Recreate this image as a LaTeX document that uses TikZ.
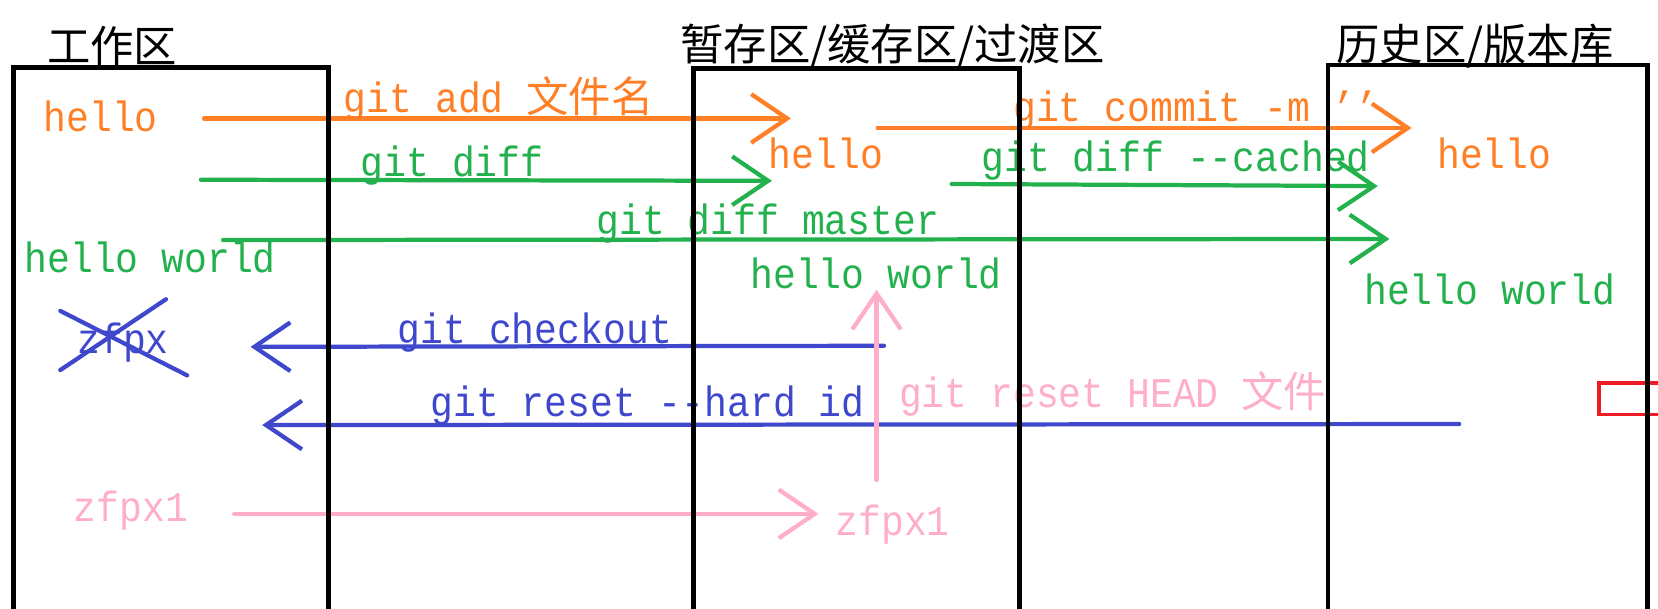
\documentclass[tikz,border=0pt]{standalone}
\usepackage{fontspec}
\newfontfamily\cjk{Noto Sans CJK SC}
\newfontfamily\gitfont[FakeStretch=0.9]{Liberation Mono}
\usetikzlibrary{arrows.meta}
\definecolor{porange}{HTML}{FF7F27}
\definecolor{pgreen}{HTML}{22B14C}
\definecolor{pblue}{HTML}{3F48CC}
\definecolor{ppink}{HTML}{FFAEC9}
\definecolor{pred}{HTML}{ED1C24}
\newcommand\twodash{-\kern0pt-}
\tikzset{
	area/.style={line width=4.5pt},
	areatitle/.style={font=\cjk\fontsize{41}{41}\selectfont, inner sep=0pt},
	txt/.style={font=\gitfont\fontsize{40}{40}\selectfont, inner sep=0pt, anchor=base west},
	flow/.style={line width=4pt, line cap=round, -{Straight Barb[length=34pt, width=46pt]}},
}
\begin{document}
\begin{tikzpicture}[x=1pt, y=-1pt]
		\useasboundingbox (0,0) rectangle (1568,575);
		\clip (0,0) rectangle (1568,575);

		\node[areatitle] (wkTitle) at (106,44) {工作区};
		\node[areatitle] (stTitle) at (844,44) {暂存区/缓存区/过渡区};
		\node[areatitle] (hsTitle) at (1395,44) {历史区/版本库};

		\node[txt, text=porange] (wkHello) at (41,124.5) {hello};
		\node[txt, text=porange] (stHello) at (727,159) {hello};
		\node[txt, text=porange] (hsHello) at (1359,159) {hello};
		\node[txt, text=porange] (lAdd) at (325,106) {git add {\cjk 文件名}};
		\node[txt, text=porange] (lCommit) at (958,115) {git commit -m ’’};

		\node[txt, text=pgreen] (wkWorld) at (23,258) {hello world};
		\node[txt, text=pgreen] (stWorld) at (709.5,273) {hello world};
		\node[txt, text=pgreen] (hsWorld) at (1290,287.5) {hello world};
		\node[txt, text=pgreen] (lDiff) at (341,167) {git diff};
		\node[txt, text=pgreen] (lCached) at (928,162.5) {git diff \twodash cached};
		\node[txt, text=pgreen] (lMaster) at (564,222) {git diff master};

		\node[txt, text=pblue] (wkZfpx) at (73,334) {zfpx};
		\node[txt, text=pblue] (lCheckout) at (376,324.5) {git checkout};
		\node[txt, text=pblue] (lHard) at (407,393.5) {git reset \twodash hard id};

		\node[txt, text=ppink] (wkZfpx1) at (69.5,493) {zfpx1};
		\node[txt, text=ppink] (stZfpx1) at (790,506) {zfpx1};
		\node[txt, text=ppink] (lHead) at (850,385) {git reset HEAD {\cjk 文件}};

		\coordinate (addS) at (193,112);      \coordinate (addE) at (748,112);
		\coordinate (commitS) at (830,121);   \coordinate (commitE) at (1335,121);
		\coordinate (diffS) at (190,170);     \coordinate (diffE) at (730,171);
		\coordinate (cachedS) at (900,174);   \coordinate (cachedE) at (1303,176);
		\coordinate (masterS) at (211,227);   \coordinate (masterE) at (1314,226);
		\coordinate (checkoutS) at (836,327); \coordinate (checkoutE) at (237,328);
		\coordinate (hardS) at (1380,401);    \coordinate (hardE) at (248,402);
		\coordinate (stageS) at (221.5,486);  \coordinate (stageE) at (774,486);
		\coordinate (headS) at (829,454);     \coordinate (headE) at (829,274);

		\draw[flow, porange] (addS) -- (addE);
		\draw[flow, porange] (commitS) -- (commitE);
		\draw[flow, pgreen] (diffS) -- (diffE);
		\draw[flow, pgreen] (cachedS) -- (cachedE);
		\draw[flow, pgreen] (masterS) -- (masterE);
		\draw[flow, pblue] (checkoutS) -- (checkoutE);
		\draw[flow, pblue] (hardS) -- (hardE);
		\draw[pblue, line width=4pt, line cap=round] (57,294) -- (177,355) (57,350) -- (157,283);
		\draw[flow, ppink] (stageS) -- (stageE);
		\draw[flow, ppink] (headS) -- (headE);

		\draw[pred, line width=3.5pt] (1600,362) -- (1512,362) -- (1512,392) -- (1600,392);

		\draw[area] (12.7,600) |- (310.5,64) -- (310.5,600);
		\draw[area] (656,600) |- (964.5,64.5) -- (964.5,600);
		\draw[area] (1256,600) |- (1558,61.5) -- (1558,600);
	\end{tikzpicture}
\end{document}
